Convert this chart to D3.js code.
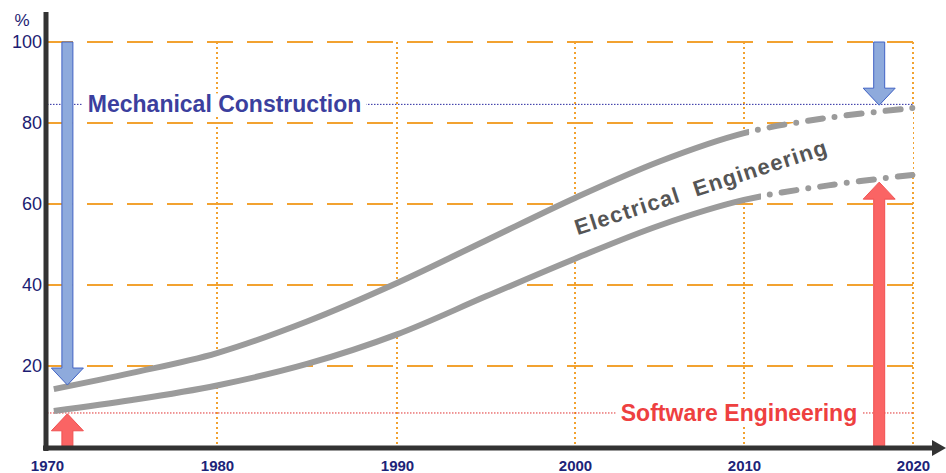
<!DOCTYPE html>
<html lang="en">
<head>
  <meta charset="UTF-8">
  <title>Engineering share</title>
  <script src="https://d3js.org/d3.v7.min.js"></script>
  <style>
    body {
      margin: 0;
      padding: 0;
      background: #fff;
      font-family: "Liberation Sans", Arial, sans-serif;
    }
    .grid-h { stroke: #f2a230; stroke-width: 2; stroke-dasharray: 26,14; }
    .grid-v { stroke: #f2a230; stroke-width: 2; stroke-dasharray: 2,3; }
    .curve { fill: none; stroke: #9b9b9b; stroke-width: 6; }
    .y-axis text { font-size: 18px; fill: #1c1c72; }
    .x-axis text { font-size: 15px; font-weight: bold; fill: #1c2478; }
  </style>
</head>
<body>
  <div id="chart"></div>
  <script>
    // data
    const xTicks = [1970, 1980, 1990, 2000, 2010, 2020];
    const yTicks = [20, 40, 60, 80, 100];
    const years = [1970.4, 1975, 1980, 1985, 1990, 1995, 2000, 2005, 2010, 2015, 2020];
    const upper = [14.3, 18.3, 23.2, 31, 40.5, 51, 61.5, 70.5, 77.5, 81.3, 83.7];
    const lower = [8.9, 11.6, 15.2, 20.5, 27.8, 37.2, 46.5, 54.7, 61, 64.6, 67.2];
    const solidUntil = [2010.3, 2011];   // after this the curves turn dash-dot
    const mechLevel = 84.6;
    const softLevel = 8.4;
    const arrowYears = [1971.2, 1971.2, 2018, 2018];
    const arrowFrom = [100, 0, 100, 0];
    const arrowTo = [15.3, 8.2, 84.4, 65.4];

    const W = 946, H = 473;
    const svg = d3.select("#chart").append("svg")
      .attr("width", W).attr("height", H);

    // the picture's year grid is not quite even, so use a piecewise scale
    const x = d3.scaleLinear()
      .domain(xTicks)
      .range([47, 217, 397, 575, 744, 913]);
    const y = d3.scaleLinear().domain([0, 100]).range([447, 42]);

    // grid
    svg.append("g").selectAll("line")
      .data(yTicks).join("line")
      .attr("class", "grid-h")
      .attr("x1", x(1970)).attr("x2", x(2020))
      .attr("y1", d => y(d)).attr("y2", d => y(d));

    svg.append("g").selectAll("line")
      .data(xTicks.slice(1)).join("line")
      .attr("class", "grid-v")
      .attr("x1", d => x(d)).attr("x2", d => x(d))
      .attr("y1", y(100)).attr("y2", y(0));

    const curve = d3.curveCatmullRom.alpha(0.5);

    // white band between the two curves hides the grid
    const pts = years.map((yr, i) => ({ yr, hi: upper[i], lo: lower[i] }));
    svg.append("path")
      .datum(pts)
      .attr("fill", "#fff")
      .attr("d", d3.area().curve(curve)
        .x(d => x(d.yr)).y0(d => y(d.lo)).y1(d => y(d.hi)));

    // reference lines with labels
    function refLine(level, color, label, tx, anchor, textColor) {
      svg.append("line")
        .attr("x1", x(1970)).attr("x2", x(2020))
        .attr("y1", y(level)).attr("y2", y(level))
        .attr("stroke", color).attr("stroke-width", 1)
        .attr("stroke-dasharray", "1.5,1.5");
      const g = svg.append("g");
      const t = g.append("text")
        .attr("x", x(tx)).attr("y", y(level) + 8)
        .attr("text-anchor", anchor)
        .attr("font-size", 23).attr("font-weight", "bold")
        .attr("fill", textColor)
        .text(label);
      const b = t.node().getBBox();
      g.insert("rect", "text")
        .attr("x", b.x - 5).attr("y", b.y + 2)
        .attr("width", b.width + 10).attr("height", b.height - 4)
        .attr("fill", "#fff");
    }
    refLine(mechLevel, "#2a2aa0", "Mechanical Construction", 1972.4, "start", "#3b3f9e");
    refLine(softLevel, "#e03030", "Software Engineering", 2016.7, "end", "#ee4040");

    // curves: solid part + dash-dot continuation
    const line = d3.line().curve(curve).x(d => x(d[0])).y(d => y(d[1]));
    const defs = svg.append("defs");
    [upper, lower].forEach((vals, k) => {
      const data = years.map((yr, i) => [yr, vals[i]]);
      const xs = x(solidUntil[k]);
      defs.append("clipPath").attr("id", "solid" + k)
        .append("rect").attr("x", 0).attr("y", 0).attr("width", xs).attr("height", H);
      defs.append("clipPath").attr("id", "dash" + k)
        .append("rect").attr("x", xs).attr("y", 0).attr("width", W - xs).attr("height", H);

      svg.append("path").attr("class", "curve")
        .attr("clip-path", `url(#solid${k})`)
        .attr("d", line(data));

      const p = svg.append("path").attr("class", "curve")
        .attr("clip-path", `url(#dash${k})`)
        .attr("stroke-linecap", "round")
        .attr("stroke-dasharray", "15,12,0,12")
        .attr("d", line(data));
      // find the length at the split so the pattern starts there
      const node = p.node(), total = node.getTotalLength();
      let lo = 0, hi = total;
      for (let j = 0; j < 30; j++) {
        const mid = (lo + hi) / 2;
        if (node.getPointAtLength(mid).x < xs) lo = mid; else hi = mid;
      }
      p.attr("stroke-dashoffset", 18 - lo);
    });

    // arrows
    const shaftW = 11, headW = 32, headH = 17;
    arrowYears.forEach((yr, i) => {
      const cx = x(yr), y0 = y(arrowFrom[i]), y1 = y(arrowTo[i]);
      const dir = y1 > y0 ? 1 : -1;
      const hb = y1 - dir * headH;
      const path = d3.path();
      path.moveTo(cx - shaftW / 2, y0);
      path.lineTo(cx - shaftW / 2, hb);
      path.lineTo(cx - headW / 2, hb);
      path.lineTo(cx, y1);
      path.lineTo(cx + headW / 2, hb);
      path.lineTo(cx + shaftW / 2, hb);
      path.lineTo(cx + shaftW / 2, y0);
      path.closePath();
      const down = dir > 0;
      svg.append("path")
        .attr("d", path.toString())
        .attr("fill", down ? "#8eaadc" : "#fa6464")
        .attr("stroke", down ? "#4062c4" : "#f05050")
        .attr("stroke-width", 1);
    });

    // Electrical Engineering label
    svg.append("text")
      .attr("transform", `translate(${x(2007.6)},${y(62.4)}) rotate(-18)`)
      .attr("text-anchor", "middle")
      .attr("font-size", 22).attr("font-weight", "bold")
      .attr("letter-spacing", 1.2)
      .attr("fill", "#555")
      .style("white-space", "pre")
      .text("Electrical  Engineering");

    // axes
    const yAxis = svg.append("g")
      .attr("class", "y-axis")
      .attr("transform", `translate(${x(1970) - 1},0)`)
      .call(d3.axisLeft(y).tickValues(yTicks).tickSize(0).tickPadding(4));
    yAxis.select(".domain").remove();

    const xAxis = svg.append("g")
      .attr("class", "x-axis")
      .attr("transform", `translate(0,${y(0) + 1})`)
      .call(d3.axisBottom(x).tickValues(xTicks).tickSize(0).tickPadding(12)
        .tickFormat(d3.format("d")));
    xAxis.select(".domain").remove();

    svg.append("text")
      .attr("x", 22).attr("y", 26)
      .attr("text-anchor", "middle")
      .attr("font-size", 17).attr("fill", "#1c1c72")
      .text("%");

    svg.append("line")
      .attr("x1", x(1970) - 1).attr("x2", x(1970) - 1)
      .attr("y1", 12).attr("y2", y(0) + 4)
      .attr("stroke", "#333").attr("stroke-width", 5);
    svg.append("line")
      .attr("x1", x(1970) - 4).attr("x2", 935)
      .attr("y1", y(0) + 1).attr("y2", y(0) + 1)
      .attr("stroke", "#333").attr("stroke-width", 5);
    svg.append("path")
      .attr("d", `M932,${y(0) - 7}L946,${y(0) + 1}L932,${y(0) + 9}Z`)
      .attr("fill", "#333");
  </script>
</body>
</html>
